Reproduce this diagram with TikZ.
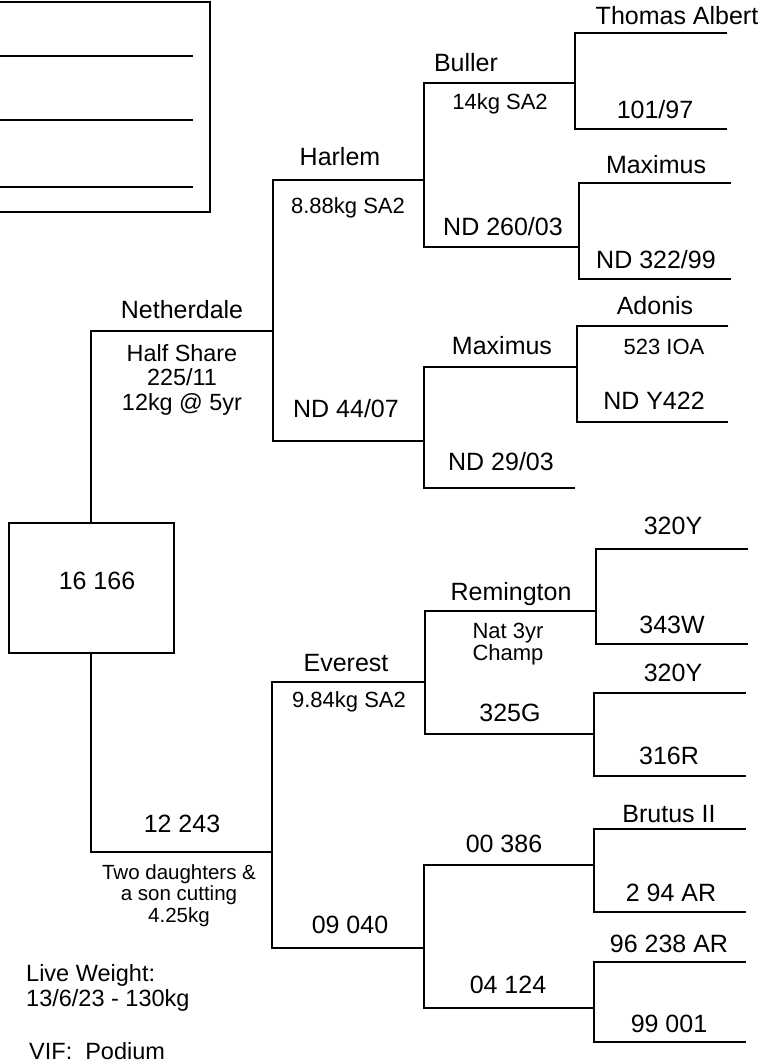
\documentclass[tikz,border=0pt]{standalone}
\usepackage{fontspec}
\setmainfont{Liberation Sans}
\tikzset{
  ln/.style={line width=1.3pt, line join=miter},
  lab/.style={anchor=base, inner sep=0pt, font=\fontsize{25}{30}\selectfont},
  sml/.style={anchor=base, inner sep=0pt, align=center, font=\fontsize{22}{22}\selectfont},
  mid/.style={anchor=base, inner sep=0pt, align=center, font=\fontsize{23.4}{24.5}\selectfont},
  tiny/.style={anchor=base, inner sep=0pt, align=center, font=\fontsize{20.5}{21.5}\selectfont},
  note/.style={anchor=base west, inner sep=0pt, align=left, font=\fontsize{23.5}{24.5}\selectfont},
}
\begin{document}
\begin{tikzpicture}[x=1pt,y=-1pt]
\useasboundingbox (0,0) rectangle (773,1063);
% blank box top left
\draw[line width=2.5pt] (-10,2) rectangle (210,212);
\draw[ln] (0,56) -- (193,56);
\draw[ln] (0,120) -- (193,120);
\draw[ln] (0,187) -- (193,187);
% root
\node[draw, line width=2pt, minimum width=165pt, minimum height=130pt, inner sep=0pt] (root) at (91,588) {};
\node[lab] (rootlab) at (97,589) {16 166};
% line coordinates
\coordinate (nethL) at (91,331);   \coordinate (nethR) at (273,331);
\coordinate (harL) at (273,180);   \coordinate (harR) at (424,180);
\coordinate (nd44L) at (273,441);  \coordinate (nd44R) at (424,441);
\coordinate (bulL) at (424,83);    \coordinate (bulR) at (575,83);
\coordinate (nd260L) at (424,247); \coordinate (nd260R) at (579,247);
\coordinate (taL) at (575,33);     \coordinate (taR) at (727,33);
\coordinate (s101L) at (575,129);  \coordinate (s101R) at (727,129);
\coordinate (maxaL) at (579,183);  \coordinate (maxaR) at (731,183);
\coordinate (nd322L) at (579,279); \coordinate (nd322R) at (731,279);
\coordinate (maxbL) at (424,367);  \coordinate (maxbR) at (577,367);
\coordinate (nd29L) at (424,488);  \coordinate (nd29R) at (575,488);
\coordinate (adL) at (577,326);    \coordinate (adR) at (728,326);
\coordinate (ndyL) at (577,422);   \coordinate (ndyR) at (728,422);
\coordinate (s12L) at (91,852);    \coordinate (s12R) at (272,852);
\coordinate (evL) at (272,682);    \coordinate (evR) at (425,682);
\coordinate (s09L) at (272,948);   \coordinate (s09R) at (424,948);
\coordinate (remL) at (425,611);   \coordinate (remR) at (596,611);
\coordinate (s325L) at (425,734);  \coordinate (s325R) at (594,734);
\coordinate (yaL) at (596,549);    \coordinate (yaR) at (748,549);
\coordinate (s343L) at (596,644);  \coordinate (s343R) at (748,644);
\coordinate (ybL) at (594,693);    \coordinate (ybR) at (746,693);
\coordinate (s316L) at (594,776);  \coordinate (s316R) at (746,776);
\coordinate (s00L) at (424,865);   \coordinate (s00R) at (594,865);
\coordinate (s04L) at (424,1008);  \coordinate (s04R) at (594,1008);
\coordinate (brL) at (594,829);    \coordinate (brR) at (746,829);
\coordinate (s294L) at (594,912);  \coordinate (s294R) at (746,912);
\coordinate (s96L) at (594,962);   \coordinate (s96R) at (746,962);
\coordinate (s99L) at (594,1042);  \coordinate (s99R) at (746,1042);
% connectors
\draw[ln] (root.north) -- (nethL) -- (nethR);
\draw[ln] (root.south) -- (s12L) -- (s12R);
\draw[ln] (harR) -- (harL) -- (nd44L) -- (nd44R);
\draw[ln] (bulR) -- (bulL) -- (nd260L) -- (nd260R);
\draw[ln] (maxbR) -- (maxbL) -- (nd29L) -- (nd29R);
\draw[ln] (taR) -- (taL) -- (s101L) -- (s101R);
\draw[ln] (maxaR) -- (maxaL) -- (nd322L) -- (nd322R);
\draw[ln] (adR) -- (adL) -- (ndyL) -- (ndyR);
\draw[ln] (evR) -- (evL) -- (s09L) -- (s09R);
\draw[ln] (remR) -- (remL) -- (s325L) -- (s325R);
\draw[ln] (s00R) -- (s00L) -- (s04L) -- (s04R);
\draw[ln] (yaR) -- (yaL) -- (s343L) -- (s343R);
\draw[ln] (ybR) -- (ybL) -- (s316L) -- (s316R);
\draw[ln] (brR) -- (brL) -- (s294L) -- (s294R);
\draw[ln] (s96R) -- (s96L) -- (s99L) -- (s99R);
% labels
\node[lab] (tTA) at (677,24) {Thomas Albert};
\node[lab] (tBul) at (466,71) {Buller};
\node[sml] (tBulw) at (500,109) {14kg SA2};
\node[lab] (t101) at (655,118) {101/97};
\node[lab] (tHar) at (340,165) {Harlem};
\node[sml] (tHarw) at (348,213) {8.88kg SA2};
\node[lab] (tMaxa) at (656,173) {Maximus};
\node[lab] (t260) at (503,235) {ND 260/03};
\node[lab] (t322) at (656,268) {ND 322/99};
\node[lab] (tNeth) at (182,318) {Netherdale};
\node[mid] (tNethw) at (182,410) {Half Share\\225/11\\12kg @ 5yr};
\node[lab] (t44) at (346,417) {ND 44/07};
\node[lab] (tAd) at (655,314) {Adonis};
\node[sml] (tAdw) at (664,354) {523 IOA};
\node[lab] (tMaxb) at (502,354) {Maximus};
\node[lab] (tY422) at (654,409) {ND Y422};
\node[lab] (t29) at (501,470) {ND 29/03};
\node[lab] (tEv) at (346,671) {Everest};
\node[sml] (tEvw) at (349,707) {9.84kg SA2};
\node[lab] (tYa) at (673,534) {320Y};
\node[lab] (tRem) at (511,600) {Remington};
\node[sml] (tRemw) at (508,660) {Nat 3yr\\Champ};
\node[lab] (t343) at (672,633) {343W};
\node[lab] (tYb) at (673,681) {320Y};
\node[lab] (t325) at (510,721) {325G};
\node[lab] (t316) at (669,764) {316R};
\node[lab] (t12) at (182,832) {12 243};
\node[tiny] (t12w) at (179,922) {Two daughters \&\\a son cutting\\4.25kg};
\node[lab] (t09) at (350,933) {09 040};
\node[lab] (t00) at (504,852) {00 386};
\node[lab] (tBr) at (669,822) {Brutus II};
\node[lab] (t294) at (671,901) {2 94 AR};
\node[lab] (t96) at (669,952) {96 238 AR};
\node[lab] (t04) at (508,993) {04 124};
\node[lab] (t99) at (669,1032) {99 001};
\node[note] (tLive) at (26,1006) {Live Weight:\\13/6/23 - 130kg};
\node[note] (tVif) at (29,1059) {VIF:\hspace{13pt}Podium};
\end{tikzpicture}
\end{document}
